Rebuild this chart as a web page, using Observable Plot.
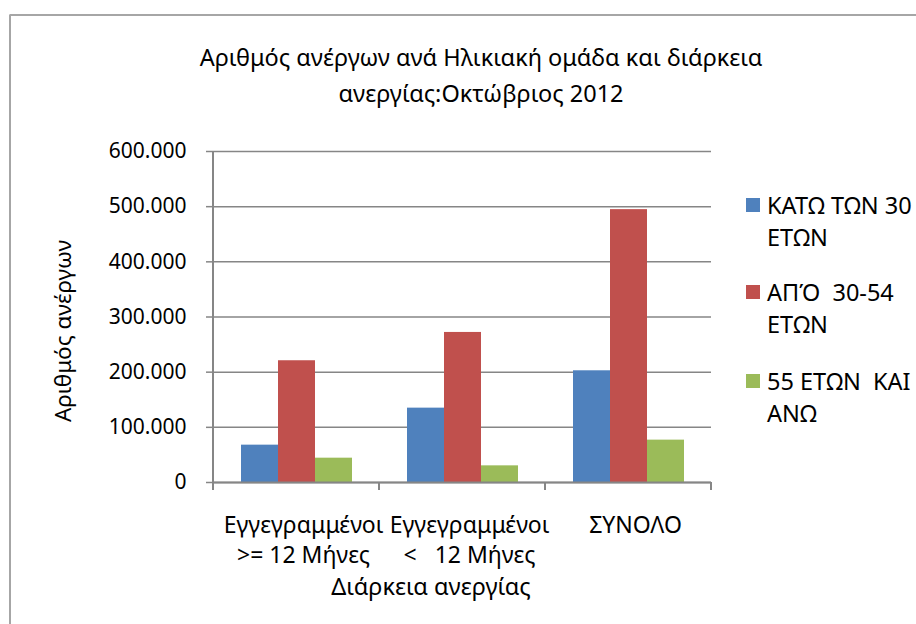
<!DOCTYPE html>
<html>
<head>
<meta charset="utf-8">
<script src="https://cdn.jsdelivr.net/npm/d3@7"></script>
<script src="https://cdn.jsdelivr.net/npm/@observablehq/plot@0.6"></script>
<style>
  html, body { margin: 0; padding: 0; background: #fff; }
  body { width: 916px; height: 624px; overflow: hidden; position: relative; font-family: "Noto Sans", sans-serif; color: #000; }
  #frame { position: absolute; left: 9px; top: 14px; width: 920px; height: 620px; border-top: 2px solid #a6a6a6; border-left: 2px solid #a6a6a6; border-top-left-radius: 2px; }
  #chart { position: absolute; left: 0; top: 0; }
  .txt { position: absolute; font-size: 23.5px; white-space: pre; }
  #title { left: 0; width: 962px; top: 39px; text-align: center; line-height: 36px; }
  #ylabel { left: 62px; top: 331px; font-size: 22.5px; transform: translate(-50%, -50%) rotate(-90deg); }
  #xlabel { left: 431px; top: 586px; transform: translate(-50%, -50%); }
  .leg { position: absolute; left: 746px; }
  .leg .sw { position: absolute; left: 0; top: 9px; width: 14px; height: 14px; }
  .leg .lt { position: absolute; left: 21px; top: 0; line-height: 32px; font-size: 23.5px; white-space: pre; }
</style>
</head>
<body>
<div id="frame"></div>
<div id="chart"></div>
<div id="title" class="txt"></div>
<div id="ylabel" class="txt"></div>
<div id="xlabel" class="txt"></div>
<div id="legend"></div>
<script>
const titleText = "Αριθμός ανέργων ανά Ηλικιακή ομάδα και διάρκεια\nανεργίας:Οκτώβριος 2012";
const yLabel = "Αριθμός ανέργων";
const xLabel = "Διάρκεια ανεργίας";
const categories = ["Εγγεγραμμένοι >= 12 Μήνες", "Εγγεγραμμένοι <   12 Μήνες", "ΣΥΝΟΛΟ"];
const series = ["ΚΑΤΩ ΤΩΝ 30 ΕΤΩΝ", "ΑΠΌ  30-54 ΕΤΩΝ", "55 ΕΤΩΝ  ΚΑΙ ΑΝΩ"];
const under30 = [67700, 134800, 202500];
const from30to54 = [220700, 272000, 494600];
const over55 = [44100, 30200, 76800];
const yTicks = [0, 100000, 200000, 300000, 400000, 500000, 600000];
const colors = ["#4F81BD", "#C0504D", "#9BBB59"];

const values = [under30, from30to54, over55];
const data = categories.flatMap((c, i) => series.map((s, j) => ({category: c, series: s, value: values[j][i]})));
const fmt = d => d3.format(",")(d).replace(/,/g, ".");
const gray = "#868686";

const W = 916, H = 624, mL = 212, mR = 205, mT = 151, mB = 142;

const chart = Plot.plot({
  width: W, height: H,
  marginLeft: mL, marginRight: mR, marginTop: mT, marginBottom: mB,
  style: {fontFamily: "Noto Sans", fontSize: "21px", color: "#000", background: "transparent", whiteSpace: "pre"},
  fx: {domain: categories, padding: 0, label: null},
  x: {domain: series, paddingInner: 0, paddingOuter: 0.74, axis: null},
  y: {domain: [0, 600000], label: null},
  color: {domain: series, range: colors},
  marks: [
    Plot.gridY(yTicks, {stroke: gray, strokeOpacity: 1, strokeWidth: 1.5}),
    Plot.barY(data, {fx: "category", x: "series", y: "value", fill: "series"}),
    Plot.ruleY([0], {stroke: gray, strokeWidth: 2}),
    Plot.axisY(yTicks, {tickSize: 7, tickPadding: 20, tickFormat: fmt, stroke: gray, fill: "#000", strokeWidth: 1.5, label: null, fontSize: 21}),
    Plot.axisFx({anchor: "bottom", tickSize: 0, tickPadding: 29, tickFormat: d => d.replace(" ", "\n"), lineHeight: 31 / 23.5, dx: 7, label: null, fontSize: 23, fill: "#000"})
  ]
});

// axis line and category boundary ticks, placed with the plot's own scales
const fxS = chart.scale("fx"), yS = chart.scale("y");
const y0 = yS.apply(0), yTop = yS.apply(600000);
const bounds = categories.map(c => fxS.apply(c)).concat([fxS.apply(categories[categories.length - 1]) + fxS.bandwidth]);
const g = d3.select(chart).append("g").attr("stroke", gray).attr("stroke-width", 2);
g.append("line").attr("x1", bounds[0]).attr("x2", bounds[0]).attr("y1", yTop).attr("y2", y0 + 8);
bounds.forEach(b => g.append("line").attr("x1", b).attr("x2", b).attr("y1", y0).attr("y2", y0 + 8));

document.getElementById("chart").appendChild(chart);
document.getElementById("title").textContent = titleText;
document.getElementById("ylabel").textContent = yLabel;
document.getElementById("xlabel").textContent = xLabel;

const legend = document.getElementById("legend");
const legTops = [189, 276, 365];
series.forEach((s, i) => {
  const k = s.lastIndexOf(" ");
  const item = document.createElement("div");
  item.className = "leg";
  item.style.top = legTops[i] + "px";
  item.innerHTML = `<div class="sw" style="background:${colors[i]}"></div><div class="lt"></div>`;
  item.querySelector(".lt").textContent = s.slice(0, k) + "\n" + s.slice(k + 1);
  legend.appendChild(item);
});
</script>
</body>
</html>
